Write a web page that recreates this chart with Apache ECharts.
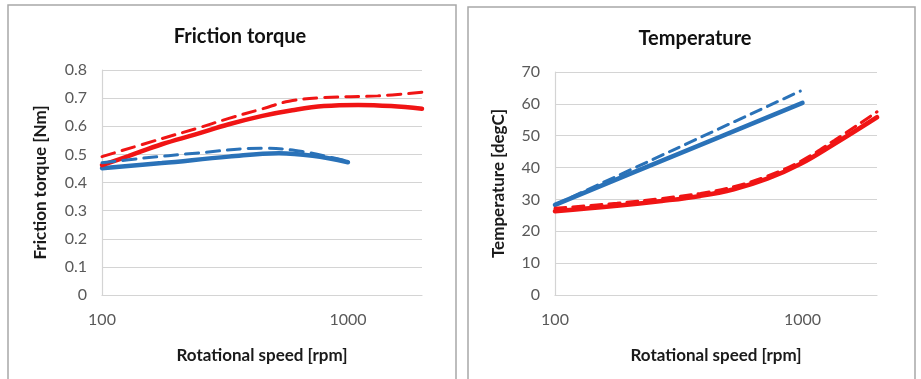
<!DOCTYPE html>
<html>
<head>
<meta charset="utf-8">
<script src="https://cdn.jsdelivr.net/npm/echarts@6/dist/echarts.min.js"></script>
<style>
  html, body { margin: 0; padding: 0; background: #ffffff; }
  #chart { width: 921px; height: 379px; }
</style>
</head>
<body>
<div id="chart"></div>
<script>
// Friction torque vs rotational speed
const ftRedSolidRpm   = [100, 128, 175, 240, 328, 449, 594, 798, 1100, 1499, 2000];
const ftRedSolidNm    = [0.462, 0.494, 0.536, 0.571, 0.607, 0.637, 0.657, 0.672, 0.676, 0.672, 0.662];
const ftRedDashRpm    = [100, 175, 240, 328, 449, 576, 798, 1321, 2000];
const ftRedDashNm     = [0.492, 0.556, 0.591, 0.628, 0.662, 0.689, 0.702, 0.708, 0.721];
const ftBlueSolidRpm  = [100, 175, 328, 524, 718, 1000];
const ftBlueSolidNm   = [0.451, 0.469, 0.492, 0.504, 0.495, 0.472];
const ftBlueDashRpm   = [100, 145, 240, 449, 653, 951, 1000];
const ftBlueDashNm    = [0.470, 0.486, 0.504, 0.522, 0.510, 0.480, 0.475];

// Temperature vs rotational speed
const tRedSolidRpm    = [100, 178, 270, 387, 528, 721, 984, 1343, 2000];
const tRedSolidC      = [26.3, 28.0, 29.5, 31.1, 33.2, 36.5, 41.2, 47.4, 55.8];
const tRedDashRpm     = [100, 178, 270, 387, 528, 721, 984, 1343, 2000];
const tRedDashC       = [27.2, 28.8, 30.3, 31.9, 34.0, 37.3, 42.0, 48.5, 57.5];
const tBlueSolidRpm   = [100, 300, 1000];
const tBlueSolidC     = [28.3, 43.6, 60.3];
const tBlueDashRpm    = [100, 300, 980];
const tBlueDashC      = [28.3, 45.5, 64.0];

const torqueTicks = [0, 0.1, 0.2, 0.3, 0.4, 0.5, 0.6, 0.7, 0.8];
const tempTicks   = [0, 10, 20, 30, 40, 50, 60, 70];
const speedLabels = [100, 1000];

const RED = '#f01414';
const BLUE = '#2a72b8';
const GRID = '#d4d4d4';
const LABEL = '#595959';
const FONT = 'Lato, "Open Sans", sans-serif';

function pairs(xs, ys) { return xs.map((x, i) => [x, ys[i]]); }

function speedAxis(gridIndex) {
  return {
    type: 'log', logBase: 10, gridIndex: gridIndex,
    min: 100, max: 2000,
    name: 'Rotational speed [rpm]', nameLocation: 'middle', nameGap: 52,
    nameTextStyle: { fontFamily: FONT, fontWeight: 'bold', fontSize: 17, color: '#1a1a1a' },
    axisLine: { show: true, lineStyle: { color: GRID, width: 1.2 } },
    axisTick: { show: false },
    splitLine: { show: false },
    axisLabel: {
      fontFamily: FONT, fontSize: 16, color: LABEL, margin: 17,
      showMaxLabel: false,
      formatter: v => {
        const r = Math.round(v);
        return speedLabels.indexOf(r) >= 0 ? String(r) : '';
      }
    }
  };
}

function valueAxis(gridIndex, ticks, name, gap) {
  return {
    type: 'value', gridIndex: gridIndex,
    min: ticks[0], max: ticks[ticks.length - 1], interval: ticks[1] - ticks[0],
    name: name, nameLocation: 'middle', nameGap: gap, nameRotate: 90,
    nameTextStyle: { fontFamily: FONT, fontWeight: 'bold', fontSize: 17, color: '#1a1a1a' },
    axisLine: { show: true, lineStyle: { color: GRID, width: 1.2 } },
    axisTick: { show: false },
    splitLine: { show: true, lineStyle: { color: GRID, width: 1.2 } },
    axisLabel: {
      fontFamily: FONT, fontSize: 16, color: LABEL, margin: 15,
      formatter: v => String(+v.toFixed(1))
    }
  };
}

function line(xi, data, color, dashed, width, dash) {
  return {
    type: 'line', xAxisIndex: xi, yAxisIndex: xi,
    data: data, smooth: 0.4, showSymbol: false, symbol: 'none',
    lineStyle: { color: color, width: width, type: dashed ? dash : 'solid', cap: 'round' },
    z: dashed ? 3 : 2,
    animation: false
  };
}

const chart = echarts.init(document.getElementById('chart'), null, { renderer: 'canvas' });
chart.setOption({
  backgroundColor: '#ffffff',
  animation: false,
  title: [
    { text: 'Friction torque', left: 235, top: 22, textAlign: 'center',
      textStyle: { fontFamily: FONT, fontWeight: 'bold', fontSize: 20, color: '#111' } },
    { text: 'Temperature', left: 690, top: 24, textAlign: 'center',
      textStyle: { fontFamily: FONT, fontWeight: 'bold', fontSize: 20, color: '#111' } }
  ],
  graphic: [
    { type: 'rect', shape: { x: 8, y: 5, width: 448, height: 400 },
      style: { fill: 'none', stroke: '#a8a8a8', lineWidth: 1.5 }, silent: true },
    { type: 'rect', shape: { x: 468, y: 7, width: 447, height: 400 },
      style: { fill: 'none', stroke: '#a8a8a8', lineWidth: 1.5 }, silent: true }
  ],
  grid: [
    { left: 102, right: 499, top: 70, bottom: 84 },
    { left: 555, right: 44, top: 72, bottom: 84 }
  ],
  xAxis: [speedAxis(0), speedAxis(1)],
  yAxis: [
    valueAxis(0, torqueTicks, 'Friction torque [Nm]', 53),
    valueAxis(1, tempTicks, 'Temperature [degC]', 48)
  ],
  series: [
    line(0, pairs(ftBlueSolidRpm, ftBlueSolidNm), BLUE, false, 4.5),
    line(0, pairs(ftBlueDashRpm, ftBlueDashNm), BLUE, true, 3, [13, 8]),
    line(0, pairs(ftRedSolidRpm, ftRedSolidNm), RED, false, 4.5),
    line(0, pairs(ftRedDashRpm, ftRedDashNm), RED, true, 3, [13, 8]),
    line(1, pairs(tBlueSolidRpm, tBlueSolidC), BLUE, false, 4.5),
    line(1, pairs(tBlueDashRpm, tBlueDashC), BLUE, true, 3, [11, 7]),
    line(1, pairs(tRedSolidRpm, tRedSolidC), RED, false, 4.5),
    line(1, pairs(tRedDashRpm, tRedDashC), RED, true, 3, [11, 7])
  ]
});
</script>
</body>
</html>
